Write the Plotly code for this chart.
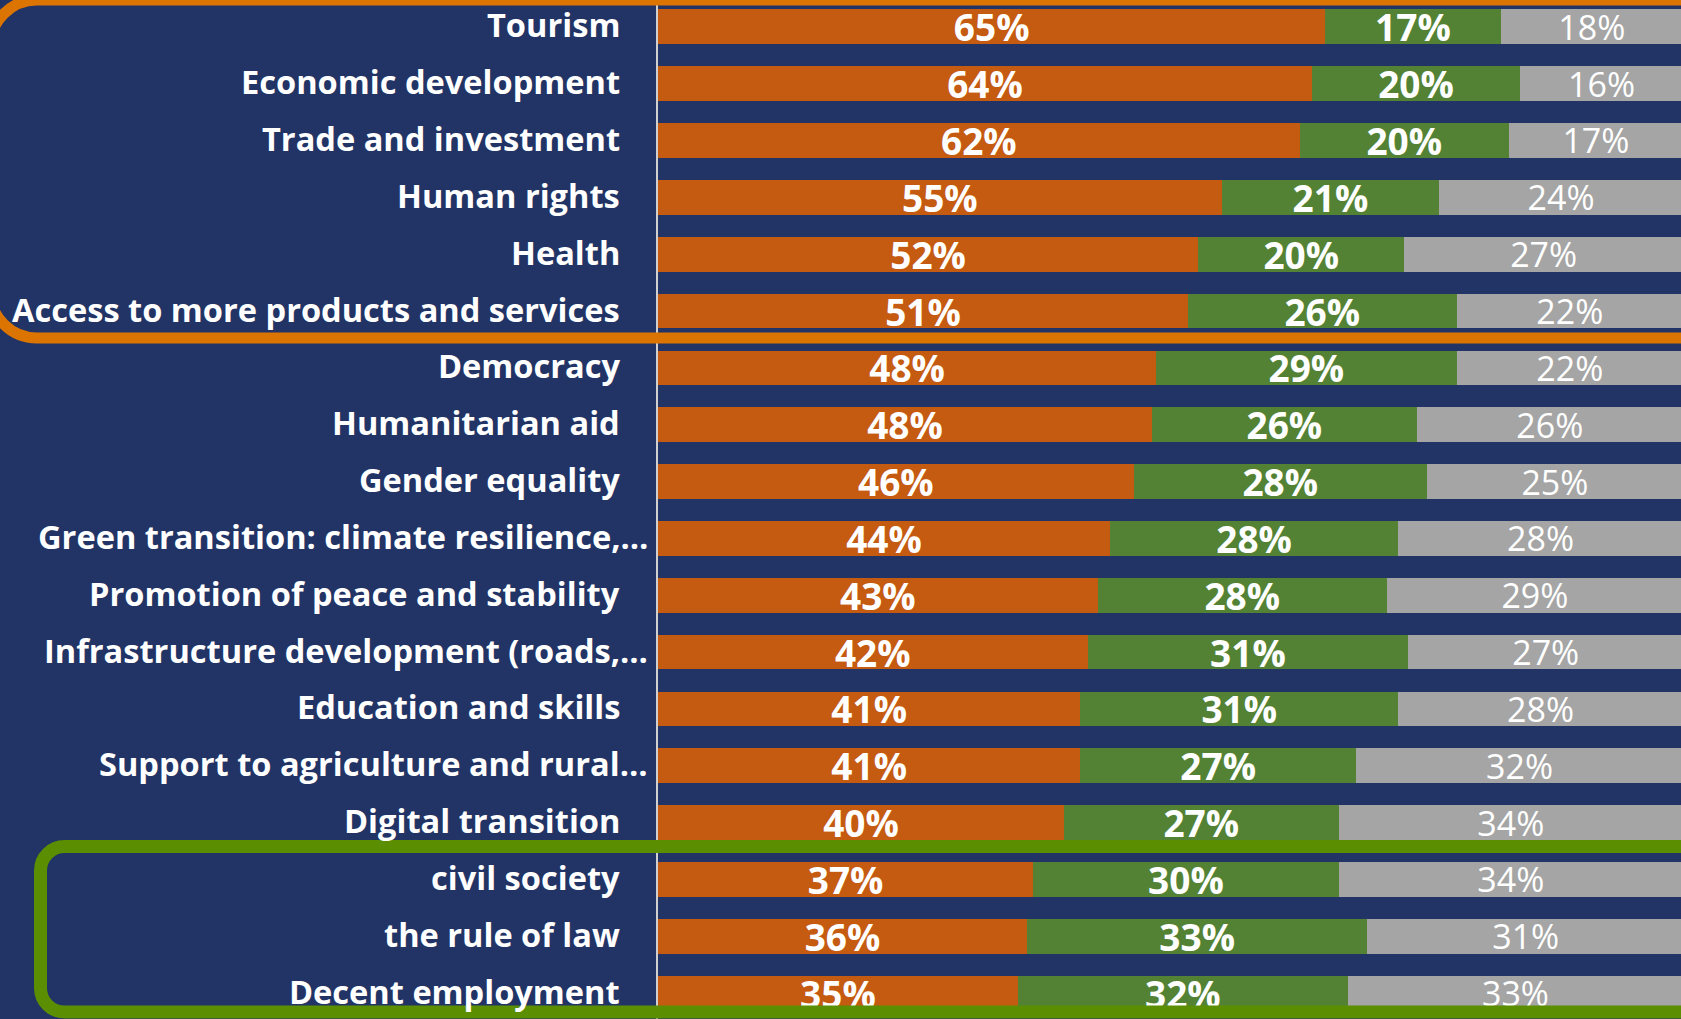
import plotly.graph_objects as go

categories = [
    "Tourism",
    "Economic development",
    "Trade and investment",
    "Human rights",
    "Health",
    "Access to more products and services",
    "Democracy",
    "Humanitarian aid",
    "Gender equality",
    "Green transition: climate resilience,…",
    "Promotion of peace and stability",
    "Infrastructure development (roads,…",
    "Education and skills",
    "Support to agriculture and rural…",
    "Digital transition",
    "civil society",
    "the rule of law",
    "Decent employment",
]

# segment values (%)
positive = [65.1, 63.8, 62.6, 55.0, 52.7, 51.7, 48.6, 48.2, 46.4, 44.1, 42.9, 41.9, 41.2, 41.2, 39.6, 36.6, 36.0, 35.1]
neutral = [17.1, 20.3, 20.4, 21.2, 20.1, 26.2, 29.3, 25.8, 28.6, 28.1, 28.2, 31.3, 31.0, 26.9, 26.8, 29.8, 33.2, 32.2]
other = [17.8, 15.9, 17.0, 23.8, 27.2, 22.1, 22.1, 26.0, 25.0, 27.8, 28.9, 26.8, 27.8, 31.9, 33.6, 33.6, 30.9, 32.7]

# printed data labels
positive_lbl = [65, 64, 62, 55, 52, 51, 48, 48, 46, 44, 43, 42, 41, 41, 40, 37, 36, 35]
neutral_lbl = [17, 20, 20, 21, 20, 26, 29, 26, 28, 28, 28, 31, 31, 27, 27, 30, 33, 32]
other_lbl = [18, 16, 17, 24, 27, 22, 22, 26, 25, 28, 29, 27, 28, 32, 34, 34, 31, 33]

W, H = 1681, 1019
L = 658
PW = W - L
BG = "#213465"

fig = go.Figure()
series = [
    (positive, positive_lbl, "#C55A11", "bold", 37),
    (neutral, neutral_lbl, "#548235", "bold", 37),
    (other, other_lbl, "#A5A5A5", "normal", 34),
]
for vals, lbls, col, wt, sz in series:
    fig.add_trace(go.Bar(
        y=categories, x=vals, orientation="h",
        marker=dict(color=col, line=dict(width=0)),
        width=0.61,
        text=[f"{v}%" for v in lbls],
        textposition="inside", insidetextanchor="middle",
        textangle=0, constraintext="none",
        textfont=dict(family="Open Sans", size=sz, color="white", weight=wt),
        showlegend=False, hoverinfo="skip",
    ))

# category labels
for c in categories:
    fig.add_annotation(
        x=0, xref="paper", y=c, yref="y",
        text=c, showarrow=False, xanchor="right", yanchor="middle",
        xshift=-8 if c.endswith("…") else -36, yshift=2,
        font=dict(family="Open Sans", size=32.6, color="white", weight="bold"),
    )


def px2paper(px, py):
    return (px - L) / PW, 1 - py / H


def rounded_open_path(x0, y0, x1, y1, r):
    k = 0.5523 * r

    def P(x, y):
        X, Y = px2paper(x, y)
        return f"{X:.5f},{Y:.5f}"
    d = f"M {P(x1, y0)} L {P(x0 + r, y0)} "
    d += f"C {P(x0 + r - k, y0)} {P(x0, y0 + r - k)} {P(x0, y0 + r)} "
    d += f"L {P(x0, y1 - r)} "
    d += f"C {P(x0, y1 - r + k)} {P(x0 + r - k, y1)} {P(x0 + r, y1)} "
    d += f"L {P(x1, y1)}"
    return d


fig.add_shape(type="path", xref="paper", yref="paper", layer="above",
              path=rounded_open_path(-10, 0, 1760, 338, 47),
              line=dict(color="#DC7402", width=11))
fig.add_shape(type="path", xref="paper", yref="paper", layer="above",
              path=rounded_open_path(40.5, 846.5, 1760, 1012, 24),
              line=dict(color="#5B8E00", width=13))

fig.update_layout(
    width=W, height=H,
    margin=dict(l=L, r=0, t=0, b=0, pad=0),
    barmode="stack", bargap=0.39,
    paper_bgcolor=BG, plot_bgcolor=BG,
    xaxis=dict(range=[0, 99.8], visible=False, fixedrange=True),
    yaxis=dict(
        categoryorder="array", categoryarray=categories,
        range=[17.456, -0.4715],
        showticklabels=False, showgrid=False, zeroline=False,
        showline=True, linecolor="#D0D0D0", linewidth=1.5, ticks="",
        fixedrange=True,
    ),
)

fig.write_html(
    "out.html",
    config={"displayModeBar": False},
    post_script=(
        "document.body.style.margin='0';"
        "document.body.style.padding='0';"
        "document.body.style.overflow='hidden';"
        "document.body.style.background='" + BG + "';"
    ),
)
